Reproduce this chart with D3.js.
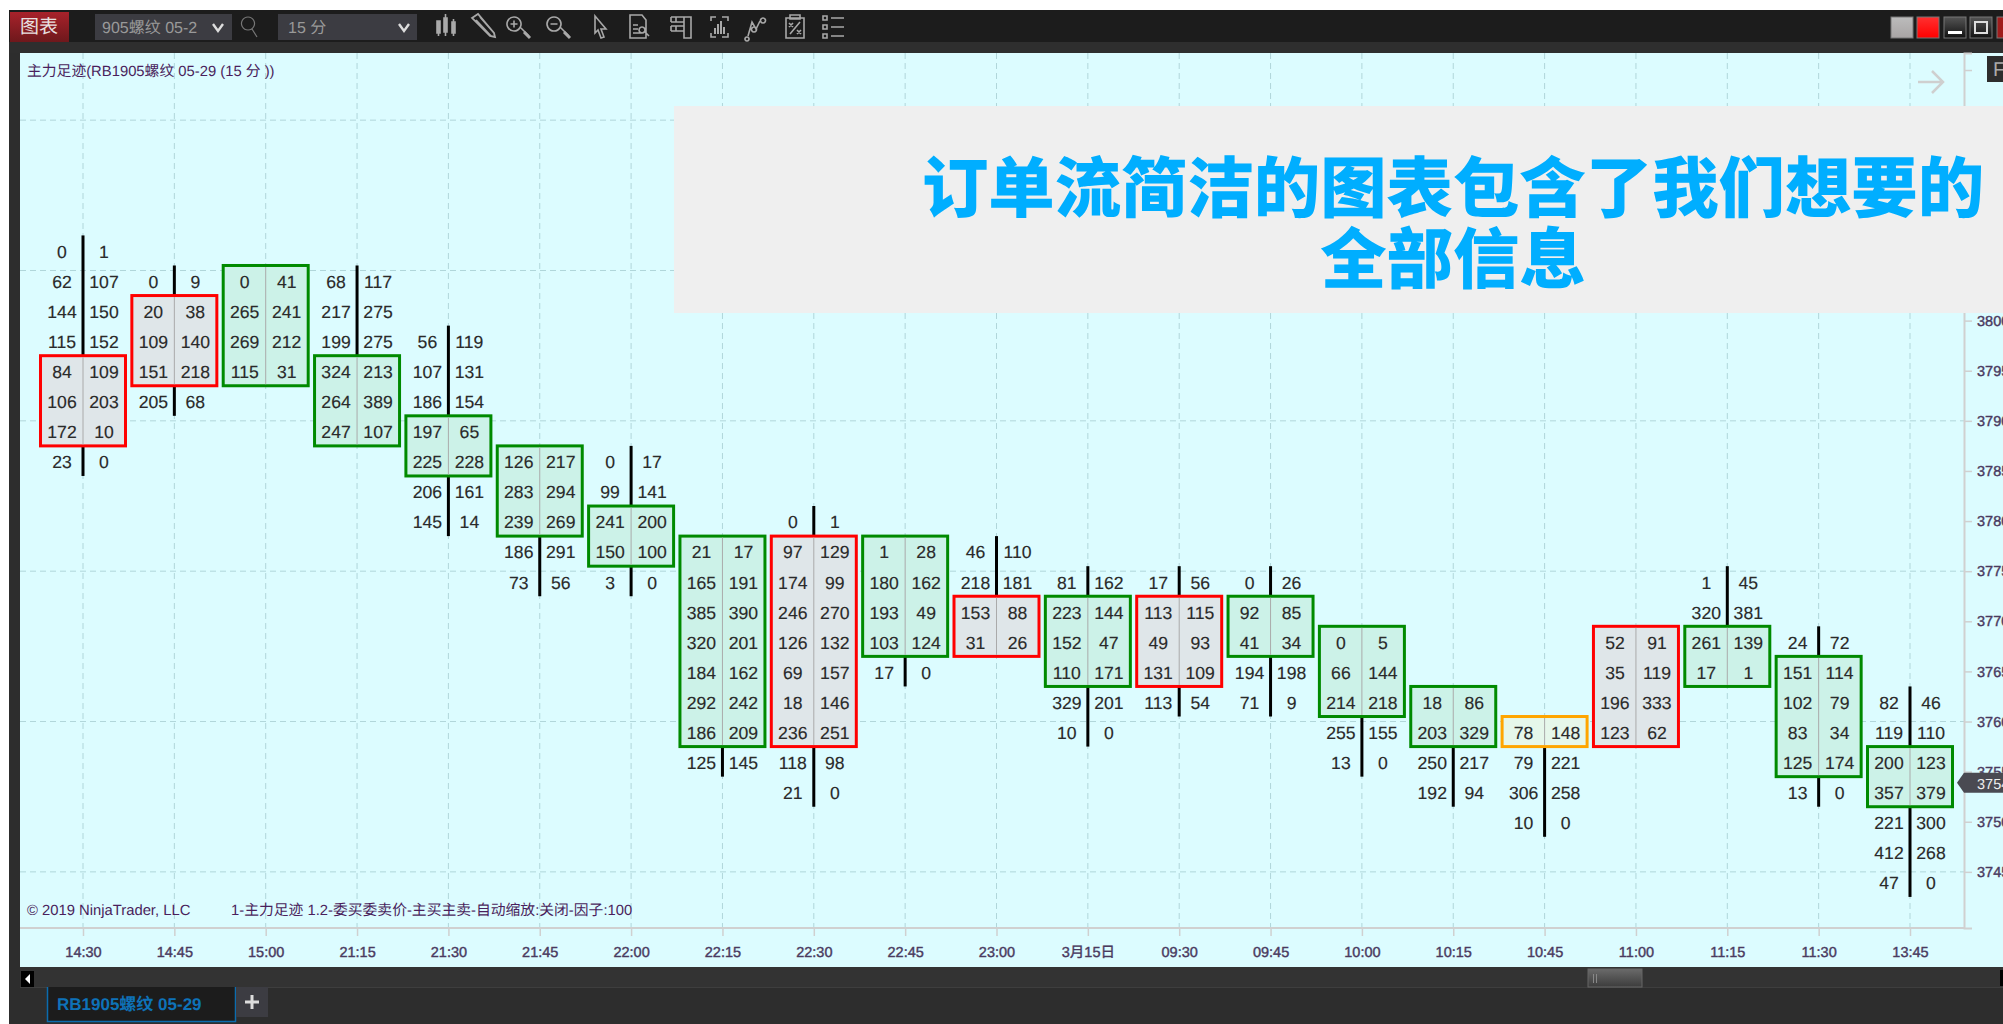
<!DOCTYPE html>
<html>
<head>
<meta charset="utf-8">
<script src="https://cdnjs.cloudflare.com/ajax/libs/d3/7.8.5/d3.min.js"></script>
<style>
    html, body { margin: 0; padding: 0; background: #fff; overflow: hidden; }
    svg { display: block; text-rendering: geometricPrecision; }
</style>
</head>
<body>
<div id="chart"></div>
<script>
// one entry per 15 minute bar
const timeLabels = ["14:30", "14:45", "15:00", "21:15", "21:30", "21:45", "22:00", "22:15", "22:30", "22:45", "23:00",
    "3月15日", "09:30", "09:45", "10:00", "10:15", "10:45", "11:00", "11:15", "11:30", "13:45"];

// price of the first row of each bar, rows go down 3 points each
const topPrices = [3807, 3804, 3804, 3804, 3798, 3786, 3786, 3777, 3780, 3777, 3777, 3774, 3774, 3774, 3768, 3762, 3759, 3768, 3774, 3768, 3762];

const bidValues = [
    [0, 62, 144, 115, 84, 106, 172, 23],
    [0, 20, 109, 151, 205],
    [0, 265, 269, 115],
    [68, 217, 199, 324, 264, 247],
    [56, 107, 186, 197, 225, 206, 145],
    [126, 283, 239, 186, 73],
    [0, 99, 241, 150, 3],
    [21, 165, 385, 320, 184, 292, 186, 125],
    [0, 97, 174, 246, 126, 69, 18, 236, 118, 21],
    [1, 180, 193, 103, 17],
    [46, 218, 153, 31],
    [81, 223, 152, 110, 329, 10],
    [17, 113, 49, 131, 113],
    [0, 92, 41, 194, 71],
    [0, 66, 214, 255, 13],
    [18, 203, 250, 192],
    [78, 79, 306, 10],
    [52, 35, 196, 123],
    [1, 320, 261, 17],
    [24, 151, 102, 83, 125, 13],
    [82, 119, 200, 357, 221, 412, 47]
];

const askValues = [
    [1, 107, 150, 152, 109, 203, 10, 0],
    [9, 38, 140, 218, 68],
    [41, 241, 212, 31],
    [117, 275, 275, 213, 389, 107],
    [119, 131, 154, 65, 228, 161, 14],
    [217, 294, 269, 291, 56],
    [17, 141, 200, 100, 0],
    [17, 191, 390, 201, 162, 242, 209, 145],
    [1, 129, 99, 270, 132, 157, 146, 251, 98, 0],
    [28, 162, 49, 124, 0],
    [110, 181, 88, 26],
    [162, 144, 47, 171, 201, 0],
    [56, 115, 93, 109, 54],
    [26, 85, 34, 198, 9],
    [5, 144, 218, 155, 0],
    [86, 329, 217, 94],
    [148, 221, 258, 0],
    [91, 119, 333, 62],
    [45, 381, 139, 1],
    [72, 114, 79, 34, 174, 0],
    [46, 110, 123, 379, 300, 268, 0]
];

// highlighted block of each bar: highest and lowest price, and its colour kind
const boxHigh = [3795, 3801, 3804, 3795, 3789, 3786, 3780, 3777, 3777, 3777, 3771, 3771, 3771, 3771, 3768, 3762, 3759, 3768, 3768, 3765, 3756];
const boxLow = [3789, 3795, 3795, 3789, 3786, 3780, 3777, 3759, 3759, 3768, 3768, 3765, 3765, 3768, 3762, 3759, 3759, 3759, 3765, 3756, 3753];
const boxKinds = ["red", "red", "green", "green", "green", "green", "green", "green", "red", "green", "red",
    "green", "red", "green", "green", "green", "orange", "red", "green", "green", "green"];

const priceTicks = d3.range(3745, 3830, 5);
const gridPrices = [3820, 3805, 3790, 3775, 3760, 3745];
const lastPrice = 3754;
const rowStep = 3;

const boxStroke = { red: "#ff0000", green: "#008a00", orange: "#ffa500" };
const boxFill = { red: "#dfe6e9", green: "#ccf2e8", orange: "#e6f7ea" };

const latin = "'Liberation Sans', 'Noto Sans CJK SC', sans-serif";
const cjk = "'Noto Sans CJK SC', sans-serif";

const svg = d3.select("#chart").append("svg").attr("width", 2003).attr("height", 1024);

const defs = svg.append("defs");
function gradient(id, top, bottom) {
    const g = defs.append("linearGradient").attr("id", id).attr("x1", 0).attr("x2", 0).attr("y1", 0).attr("y2", 1);
    g.append("stop").attr("offset", "0%").attr("stop-color", top);
    g.append("stop").attr("offset", "100%").attr("stop-color", bottom);
}
gradient("redTab", "#a8222b", "#6e181c");
gradient("btnGrey", "#bcbcbc", "#a8a4a4");
gradient("btnRed", "#ff3030", "#ff0000");
gradient("btnDark", "#555", "#111");
gradient("thumb", "#6a6a6a", "#3c3c3c");

function rect(x, y, w, h, fill) {
    return svg.append("rect").attr("x", x).attr("y", y).attr("width", w).attr("height", h).attr("fill", fill);
}

// window frame
rect(9, 10, 1994, 1014, "#2d2d2d");
rect(9, 10, 1994, 32, "#1c1c1c");
rect(9, 42, 1994, 11, "#2e2e2e");
rect(20, 53, 1983, 914, "#dcfcff");
rect(20, 967, 1983, 21, "#333333");
rect(20, 987, 1983, 1, "#3e3e3e");

// top toolbar
rect(10, 12, 59, 30, "url(#redTab)");
svg.append("text").attr("x", 39).attr("y", 33).attr("text-anchor", "middle")
    .attr("font-family", cjk).attr("font-size", 19).attr("fill", "#e8e0e0").text("图表");
rect(95, 14, 137, 26, "#3c3c42");
svg.append("text").attr("x", 102).attr("y", 33).attr("font-family", latin).attr("font-size", 16)
    .attr("fill", "#999").text("905螺纹 05-2");
rect(278, 14, 139, 26, "#3c3c42");
svg.append("text").attr("x", 288).attr("y", 33).attr("font-family", latin).attr("font-size", 16)
    .attr("fill", "#999").text("15 分");
rect(218, 14, 14, 26, "#3c3c42");

const toolbar = svg.append("g").attr("fill", "none").attr("stroke", "#a8a8a8").attr("stroke-width", 1.6);
function chevron(cx) {
    svg.append("path").attr("d", `M${cx - 5},24 L${cx},31 L${cx + 5},24`).attr("fill", "none").attr("stroke", "#ddd").attr("stroke-width", 2.4);
}
chevron(218);
chevron(404);
function icon(cx, d, opts) {
    const p = toolbar.append("path").attr("transform", `translate(${cx},27)`).attr("d", d);
    if (opts && opts.w) p.attr("stroke-width", opts.w);
    if (opts && opts.fill) p.attr("fill", opts.fill);
    return p;
}
const loupe = "M-7,-10 a7,7 0 1,0 0.01,0 Z M-1,0 L8,9";
icon(251, "M-3,-10 a6.5,6.5 0 1,0 0.01,0 Z M1,2 L6,10", { w: 1.2 }).attr("stroke", "#777");
// candles
icon(445, "M-8,-6 h3 v12 h-3 Z M-1,-9 h3 v14 h-3 Z M7,-5 h3 v11 h-3 Z", { fill: "#b8b8b8" });
icon(445, "M-6.5,-6 v15 M0.5,-13 v22 M8.5,-8 v17");
// pencil
icon(485, "M-13,-9 L-7,-13 L9,6 L10,10 L5,9 Z M-9,-7 L6,9 M-5,-10 L9,6", { w: 1.8 });
// zoom in and out
icon(521, loupe + " M-10.5,-3 h7 M-7,-6.5 v7", { w: 1.6 });
icon(521, "M3,5 L9,11", { w: 3 });
icon(561, loupe + " M-10.5,-3 h7", { w: 1.6 });
icon(561, "M3,5 L9,11", { w: 3 });
// cursor
icon(600, "M-5,-11 L6,2 L1,2 L4,10 L1,11 L-2,3 L-5,6 Z");
// document with loupe
icon(639, "M-9,-12 H3 L7,-7 V11 H-9 Z M-6,-2 h5 M-6,2 h5 M-6,6 h8 M3,0 a3,3 0 1,0 0.01,0 Z M6,5 L10,9");
// boxes
icon(679, "M-8,-10 H5 M-8,-5 H5 M-8,-1 H5 M-8,4 H5 M5,-10 h7 V11 H5 Z M-8,-10 v5 M-3,-10 v5 M-8,-1 v5 M-3,-1 v5");
// bars in brackets
icon(719, "M-8,-6 V-10 H-3 M3,-10 H9 V-6 M-8,6 V10 H-3 M3,10 H9 V6");
icon(719, "M-4,7 V1 M-1,7 V-3 M2,7 V-6 M5,7 V0", { w: 2 });
// line with nodes
icon(755, "M-8,10 a2,2 0 1,0 0.01,0 Z M-1,0 a2.5,2.5 0 1,0 0.01,0 Z M8,-9 a2.5,2.5 0 1,0 0.01,0 Z M-7,9 L-3,-5 L1,2 L5,-6");
// clipboard
icon(795, "M-9,-9 H9 V11 H-9 Z M-5,-12 H5 V-8 H-5 Z M-6,-4 l4,4 M-2,-4 l-4,4 M2,3 l4,4 M6,3 l-4,4 M-5,7 L5,-5");
// list
icon(832, "M-9,-11 h4 v4 h-4 Z M-9,-2 h4 v4 h-4 Z M-9,7 h4 v4 h-4 Z M-1,-9 H12 M-1,0 H12 M-1,9 H12");

// window buttons
function winButton(x, w, fill) {
    return rect(x, 17, w, 21, fill).attr("stroke", "#777").attr("stroke-width", 1);
}
winButton(1891, 22, "url(#btnGrey)");
winButton(1917, 22, "url(#btnRed)");
winButton(1944, 22, "url(#btnDark)");
winButton(1970, 22, "url(#btnDark)");
winButton(1997, 8, "#a01c1c");
rect(1948, 31, 14, 3, "#fff");
svg.append("rect").attr("x", 1975).attr("y", 22).attr("width", 12).attr("height", 11)
    .attr("fill", "none").attr("stroke", "#ddd").attr("stroke-width", 2);

// scales
const x = d3.scalePoint().domain(timeLabels).range([83, 1910]);
const y = d3.scaleLinear().domain([3826.7, 3739.4]).range([53, 928]);
const rowH = y(0) - y(rowStep);
const halfBox = 42.5;

// grid
svg.append("g").selectAll("line").data(timeLabels).enter().append("line")
    .attr("x1", d => x(d)).attr("x2", d => x(d)).attr("y1", 53).attr("y2", 928)
    .attr("stroke", "#b0d6da").attr("stroke-dasharray", "6,4");
svg.append("g").selectAll("line").data(gridPrices).enter().append("line")
    .attr("x1", 20).attr("x2", 1964).attr("y1", d => y(d)).attr("y2", d => y(d))
    .attr("stroke", "#b0d6da").attr("stroke-dasharray", "6,4");

// axes, labels above 3800 sit under the headline panel so only their ticks show
const xAxis = svg.append("g").attr("transform", "translate(0,928)")
    .call(d3.axisBottom(x).tickSize(8).tickPadding(11));
xAxis.select(".domain").remove();
const yAxis = svg.append("g").attr("transform", "translate(1964,0)")
    .call(d3.axisRight(y).tickValues(priceTicks).tickFormat(d => d > 3800 ? "" : d).tickSize(8).tickPadding(5));
yAxis.select(".domain").attr("stroke", "#d0d0d0").attr("stroke-width", 2);
svg.append("line").attr("x1", 20).attr("x2", 1964).attr("y1", 928).attr("y2", 928)
    .attr("stroke", "#d0d0d0").attr("stroke-width", 2);
[xAxis, yAxis].forEach(function (axis) {
    axis.selectAll("line").attr("stroke", "#d0d0d0").attr("stroke-width", 1.5);
    axis.selectAll("text").attr("fill", "#4a3a60").attr("stroke", "#4a3a60").attr("stroke-width", 0.4)
        .attr("font-family", latin).attr("font-size", 14.5);
});

// footprint bars
const bars = svg.append("g").selectAll("g").data(timeLabels).enter().append("g");

bars.append("line")
    .attr("x1", d => x(d)).attr("x2", d => x(d))
    .attr("y1", (d, i) => y(topPrices[i]) - rowH / 2)
    .attr("y2", (d, i) => y(topPrices[i] - (bidValues[i].length - 1) * rowStep) + rowH / 2)
    .attr("stroke", "#000").attr("stroke-width", 3);

bars.append("rect")
    .attr("x", d => x(d) - halfBox)
    .attr("width", halfBox * 2)
    .attr("y", (d, i) => y(boxHigh[i]) - rowH / 2)
    .attr("height", (d, i) => y(boxLow[i]) - y(boxHigh[i]) + rowH)
    .attr("fill", (d, i) => boxFill[boxKinds[i]])
    .attr("stroke", (d, i) => boxStroke[boxKinds[i]])
    .attr("stroke-width", 3);

bars.append("line")
    .attr("x1", d => x(d)).attr("x2", d => x(d))
    .attr("y1", (d, i) => y(boxHigh[i]) - rowH / 2 + 1.5)
    .attr("y2", (d, i) => y(boxLow[i]) + rowH / 2 - 1.5)
    .attr("stroke", "#aaaaaa").attr("stroke-width", 1);

function cellText(values, dx) {
    bars.selectAll("text.c" + dx)
        .data((d, i) => values[i].map((v, r) => ({ v: v, bar: d, price: topPrices[i] - r * rowStep })))
        .enter().append("text")
        .attr("class", "c" + dx)
        .attr("x", d => x(d.bar) + dx)
        .attr("y", d => y(d.price) + 1)
        .attr("dy", "0.36em")
        .attr("text-anchor", "middle")
        .attr("font-family", latin).attr("font-size", 17.6).attr("fill", "#2a2a2a")
        .attr("stroke", "#2a2a2a").attr("stroke-width", 0.15)
        .text(d => d.v);
}
cellText(bidValues, -21);
cellText(askValues, 21);

// last price tag
svg.append("path")
    .attr("d", `M1957,${y(lastPrice) + 1} L1964,${y(lastPrice) - 9} H2003 V${y(lastPrice) + 11} H1964 Z`)
    .attr("fill", "#4a4a52");
svg.append("text").attr("x", 1977).attr("y", y(lastPrice) + 7).attr("font-family", latin).attr("font-size", 14.5)
    .attr("fill", "#eee").text(lastPrice);

// chart captions
const captionColor = "#4a1f5c";
svg.append("text").attr("x", 27).attr("y", 76).attr("font-family", latin).attr("font-size", 14.8)
    .attr("fill", captionColor).text("主力足迹(RB1905螺纹 05-29 (15 分 ))");
svg.append("text").attr("x", 27).attr("y", 915).attr("font-family", latin).attr("font-size", 14.8)
    .attr("fill", captionColor).text("© 2019 NinjaTrader, LLC");
svg.append("text").attr("x", 231).attr("y", 915).attr("font-family", latin).attr("font-size", 14.8)
    .attr("fill", captionColor).text("1-主力足迹 1.2-委买委卖价-主买主卖-自动缩放:关闭-因子:100");

// arrow and side button at the top right
svg.append("path").attr("d", "M1918,82 H1943 M1932,71 L1943,82 L1932,93").attr("fill", "none")
    .attr("stroke", "#cfcfcf").attr("stroke-width", 2.5);
rect(1987, 56, 16, 26, "#2d2d2d");
svg.append("text").attr("x", 1993).attr("y", 76).attr("font-family", latin).attr("font-size", 20)
    .attr("fill", "#aaa").text("F");

// scrollbar and tab strip
rect(21, 971, 13, 16, "#000");
svg.append("path").attr("d", "M30,974 L25,979 L30,984 Z").attr("fill", "#fff");
rect(2000, 970, 3, 16, "#000");
rect(1588, 969, 54, 18, "url(#thumb)").attr("stroke", "#666").attr("stroke-width", 1);
rect(1593, 974, 1, 9, "#888");
rect(1596, 974, 1, 9, "#888");
rect(47, 987, 188, 34, "#1c1c1c");
svg.append("path").attr("d", "M47.5,987 V1021.5 H235.5 V987").attr("fill", "none").attr("stroke", "#0b6cae").attr("stroke-width", 1.5);
svg.append("text").attr("x", 57).attr("y", 1010).attr("font-family", latin).attr("font-size", 17).attr("font-weight", 700)
    .attr("fill", "#0e72b8").text("RB1905螺纹 05-29");
rect(236, 987, 32, 30, "#3c3c42");
svg.append("path").attr("d", "M252,995 V1009 M245,1002 H259").attr("stroke", "#ddd").attr("stroke-width", 3);

// headline panel over the chart
rect(674, 106, 1329, 207, "#efefef");
const headline = svg.append("g").attr("font-family", cjk).attr("font-weight", 900).attr("font-size", 66.4)
    .attr("fill", "#00aeff").attr("text-anchor", "middle");
headline.append("text").attr("x", 1453).attr("y", 212).text("订单流简洁的图表包含了我们想要的");
headline.append("text").attr("x", 1453).attr("y", 283).text("全部信息");
</script>
</body>
</html>
